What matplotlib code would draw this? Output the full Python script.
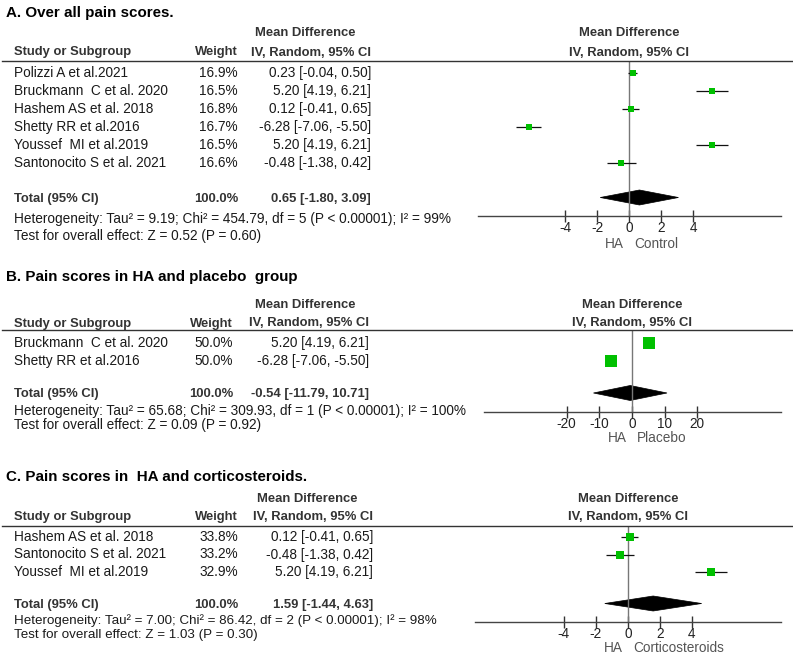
import matplotlib
matplotlib.use("Agg")
import matplotlib.pyplot as plt
from matplotlib.patches import Polygon

plt.rcParams['font.family'] = ['Liberation Sans', 'DejaVu Sans']

W, H = 793, 661

# ---------------- data ----------------
titles = ["A. Over all pain scores.",
          "B. Pain scores in HA and placebo  group",
          "C. Pain scores in  HA and corticosteroids."]

studies_A = ["Polizzi A et al.2021", "Bruckmann  C et al. 2020", "Hashem AS et al. 2018",
             "Shetty RR et al.2016", "Youssef  MI et al.2019", "Santonocito S et al. 2021"]
weights_A = [16.9, 16.5, 16.8, 16.7, 16.5, 16.6]
md_A = [0.23, 5.20, 0.12, -6.28, 5.20, -0.48]
lo_A = [-0.04, 4.19, -0.41, -7.06, 4.19, -1.38]
hi_A = [0.50, 6.21, 0.65, -5.50, 6.21, 0.42]
total_A = [0.65, -1.80, 3.09]
het_A = "Heterogeneity: Tau\u00b2 = 9.19; Chi\u00b2 = 454.79, df = 5 (P < 0.00001); I\u00b2 = 99%"
test_A = "Test for overall effect: Z = 0.52 (P = 0.60)"
ticks_A = [-4, -2, 0, 2, 4]
favours_A = ["HA", "Control"]

studies_B = ["Bruckmann  C et al. 2020", "Shetty RR et al.2016"]
weights_B = [50.0, 50.0]
md_B = [5.20, -6.28]
lo_B = [4.19, -7.06]
hi_B = [6.21, -5.50]
total_B = [-0.54, -11.79, 10.71]
het_B = "Heterogeneity: Tau\u00b2 = 65.68; Chi\u00b2 = 309.93, df = 1 (P < 0.00001); I\u00b2 = 100%"
test_B = "Test for overall effect: Z = 0.09 (P = 0.92)"
ticks_B = [-20, -10, 0, 10, 20]
favours_B = ["HA", "Placebo"]

studies_C = ["Hashem AS et al. 2018", "Santonocito S et al. 2021", "Youssef  MI et al.2019"]
weights_C = [33.8, 33.2, 32.9]
md_C = [0.12, -0.48, 5.20]
lo_C = [-0.41, -1.38, 4.19]
hi_C = [0.65, 0.42, 6.21]
total_C = [1.59, -1.44, 4.63]
het_C = "Heterogeneity: Tau\u00b2 = 7.00; Chi\u00b2 = 86.42, df = 2 (P < 0.00001); I\u00b2 = 98%"
test_C = "Test for overall effect: Z = 1.03 (P = 0.30)"
ticks_C = [-4, -2, 0, 2, 4]
favours_C = ["HA", "Corticosteroids"]

total_weights = [100.0, 100.0, 100.0]

# ---------------- layout (pixels) ----------------
layouts = [
    dict(title_y=12.5, mdh_y=33.3, hdr_y=52.5, rule_y=61, row0=73, step=18.0,
         total_y=199, het_y=218.5, test_y=236, axis_y=216, ax_l=478, ax_r=781,
         xlim=(-9.44, 9.5), w_r=238, ci_r=371, mdh_c=305, fh_c=629, fav_y=243.5,
         msize=4.4, het_fs=9.8),
    dict(title_y=276.7, mdh_y=304.5, hdr_y=323.5, rule_y=330, row0=343.3, step=17.3,
         total_y=394.5, het_y=411, test_y=425.5, axis_y=411.7, ax_l=484, ax_r=781,
         xlim=(-45.3, 45.6), w_r=233, ci_r=369, mdh_c=305, fh_c=632, fav_y=438.5,
         msize=8.0, het_fs=9.8),
    dict(title_y=476.7, mdh_y=499.5, hdr_y=517.3, rule_y=526, row0=537, step=17.5,
         total_y=605, het_y=621, test_y=635, axis_y=621.7, ax_l=475, ax_r=781,
         xlim=(-9.57, 9.60), w_r=238, ci_r=373, mdh_c=307, fh_c=628, fav_y=648.3,
         msize=5.4, het_fs=9.6),
]

panels = [
    (studies_A, weights_A, md_A, lo_A, hi_A, total_A, het_A, test_A, ticks_A, favours_A),
    (studies_B, weights_B, md_B, lo_B, hi_B, total_B, het_B, test_B, ticks_B, favours_B),
    (studies_C, weights_C, md_C, lo_C, hi_C, total_C, het_C, test_C, ticks_C, favours_C),
]

TXT = '#1a1a1a'
HDR = '#333333'
FS = 9.8
FSB = 9.4
GREEN = '#00c000'

fig = plt.figure(figsize=(W / 100, H / 100), dpi=100)


def T(x, y, s, **kw):
    kw.setdefault('va', 'center')
    kw.setdefault('fontsize', FS)
    kw.setdefault('color', TXT)
    fig.text(x / W, 1 - y / H, s, **kw)


for title, lay, tw, (st, wt, md, lo, hi, tot, het, test, ticks, fav) in zip(
        titles, layouts, total_weights, panels):
    # title
    T(6, lay['title_y'], title, fontsize=10.9, fontweight='bold', color='black')
    # headers
    T(lay['mdh_c'], lay['mdh_y'], "Mean Difference", ha='center', fontweight='bold',
      color=HDR, fontsize=FSB)
    T(14, lay['hdr_y'], "Study or Subgroup", fontweight='bold', color=HDR, fontsize=FSB)
    T(lay['w_r'], lay['hdr_y'], "Weight", ha='right', fontweight='bold', color=HDR, fontsize=FSB)
    T(lay['ci_r'], lay['hdr_y'], "IV, Random, 95% CI", ha='right', fontweight='bold',
      color=HDR, fontsize=FSB)
    T(lay['fh_c'], lay['mdh_y'], "Mean Difference", ha='center', fontweight='bold',
      color=HDR, fontsize=FSB)
    T(lay['fh_c'], lay['hdr_y'], "IV, Random, 95% CI", ha='center', fontweight='bold',
      color=HDR, fontsize=FSB)
    # horizontal rule
    fig.add_artist(plt.Line2D([2 / W, 1], [1 - lay['rule_y'] / H] * 2, color='#333333', lw=1.0))

    rows_y = [lay['row0'] + i * lay['step'] for i in range(len(st))]
    for name, w, m, l, h, y in zip(st, wt, md, lo, hi, rows_y):
        T(14, y, name)
        T(lay['w_r'], y, f"{w:.1f}%", ha='right')
        T(lay['ci_r'], y, f"{m:.2f} [{l:.2f}, {h:.2f}]", ha='right')
    T(14, lay['total_y'], "Total (95% CI)", fontweight='bold', color=HDR, fontsize=FSB)
    T(lay['w_r'], lay['total_y'], f"{tw:.1f}%", ha='right', fontweight='bold', color=HDR,
      fontsize=FSB)
    T(lay['ci_r'], lay['total_y'], f"{tot[0]:.2f} [{tot[1]:.2f}, {tot[2]:.2f}]", ha='right',
      fontweight='bold', color=HDR, fontsize=FSB)
    T(14, lay['het_y'], het, fontsize=lay['het_fs'])
    T(14, lay['test_y'], test, fontsize=lay['het_fs'])

    # forest axes: spans from rule line to axis line
    top, bot = lay['rule_y'], lay['axis_y']
    ax = fig.add_axes([lay['ax_l'] / W, 1 - bot / H, (lay['ax_r'] - lay['ax_l']) / W, (bot - top) / H])
    ax.set_xlim(*lay['xlim'])
    ax.set_ylim(bot, top)
    ax.patch.set_visible(False)
    for s in ['top', 'left', 'right']:
        ax.spines[s].set_visible(False)
    ax.spines['bottom'].set_color('#444444')
    ax.spines['bottom'].set_linewidth(1.0)
    ax.set_yticks([])
    ax.set_xticks(ticks)
    ax.set_xticklabels([str(t) for t in ticks])
    ax.tick_params(axis='x', direction='inout', length=9, width=1.0, color='#333333',
                   labelsize=FS, labelcolor='#222222', pad=-1)
    ax.axvline(0, color='#777777', lw=1.0)
    for m, l, h, y in zip(md, lo, hi, rows_y):
        ax.plot([l, h], [y, y], color='#111111', lw=0.9, solid_capstyle='butt')
        ax.plot([m], [y], marker='s', ms=lay['msize'], color=GREEN, mec=GREEN, mew=0)
    dy = 7.5
    ty = lay['total_y'] - 1.5
    ax.add_patch(Polygon([[tot[1], ty], [tot[0], ty - dy], [tot[2], ty], [tot[0], ty + dy]],
                         closed=True, facecolor='black', edgecolor='black', lw=0.5, clip_on=False))
    # favours labels
    zero_px = lay['ax_l'] + (0 - lay['xlim'][0]) / (lay['xlim'][1] - lay['xlim'][0]) * (lay['ax_r'] - lay['ax_l'])
    T(zero_px - 5, lay['fav_y'], fav[0], ha='right', color='#555555')
    T(zero_px + 5, lay['fav_y'], fav[1], ha='left', color='#555555')

fig.savefig("out.png", dpi=100)
